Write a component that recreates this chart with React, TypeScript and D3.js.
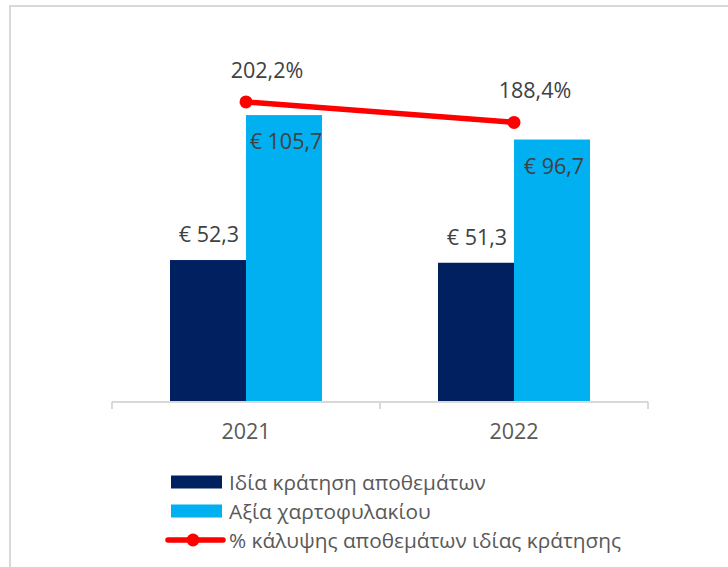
import React from "react";
import * as d3 from "d3";

// data
const years = ["2021", "2022"];
const seriesNames = ["Ιδία κράτηση αποθεμάτων", "Αξία χαρτοφυλακίου"];
const ownHoldings = [52.3, 51.3];
const portfolioValue = [105.7, 96.7];
const coverage = [202.2, 188.4];
const lineName = "% κάλυψης αποθεμάτων ιδίας κράτησης";

const colors = ["#002060", "#00B0F0"];
const red = "#FF0000";
const font = "'Open Sans', sans-serif";

const W = 728;
const H = 567;

const fmt = (v: number) => v.toFixed(1).replace(".", ",");

export default function App() {
  const x = d3.scaleBand().domain(years).range([112, 648]);
  const inner = d3
    .scaleBand()
    .domain(seriesNames)
    .range([0, x.bandwidth()])
    .paddingOuter(0.763)
    .paddingInner(0);
  const y = d3.scaleLinear().domain([0, 140]).range([402, 22]);
  const y2 = d3.scaleLinear().domain([0, 250]).range([402, 31]);

  const values = [ownHoldings, portfolioValue];
  const cx = (yr: string) => (x(yr) ?? 0) + x.bandwidth() / 2;
  const line = d3
    .line<number>()
    .x((_, i) => cx(years[i]))
    .y((d) => y2(d));

  const axisTicks = [...years.map((yr) => x(yr) ?? 0), x.range()[1]];

  return (
    <>
      <style>{"body{margin:0}"}</style>
      <svg width={W} height={H} style={{ display: "block", background: "#fff" }}>
        {/* chart frame */}
        <path d={`M10,${H + 5} V6 H${W + 5}`} fill="none" stroke="#d9d9d9" strokeWidth={2} />

        {/* bars */}
        {seriesNames.map((s, si) =>
          years.map((yr, i) => (
            <rect
              key={s + yr}
              x={(x(yr) ?? 0) + (inner(s) ?? 0)}
              y={y(values[si][i])}
              width={inner.bandwidth()}
              height={y(0) - y(values[si][i])}
              fill={colors[si]}
            />
          ))
        )}

        {/* x axis */}
        <line x1={x.range()[0]} x2={x.range()[1]} y1={y(0)} y2={y(0)} stroke="#d9d9d9" strokeWidth={2} />
        {axisTicks.map((t, i) => (
          <line key={i} x1={t} x2={t} y1={y(0)} y2={y(0) + 7} stroke="#d9d9d9" strokeWidth={2} />
        ))}
        {years.map((yr) => (
          <text key={yr} x={cx(yr)} y={439} textAnchor="middle" fontFamily={font} fontSize={21.5} fill="#595959">
            {yr}
          </text>
        ))}

        {/* bar labels */}
        {years.map((yr, i) => (
          <text
            key={"l0" + yr}
            x={(x(yr) ?? 0) + (inner(seriesNames[0]) ?? 0) + inner.bandwidth() / 2 + 1}
            y={y(ownHoldings[i]) - 18}
            textAnchor="middle"
            fontFamily={font}
            fontSize={21.5}
            fill="#404040"
          >
            {"€ " + fmt(ownHoldings[i])}
          </text>
        ))}
        {years.map((yr, i) => (
          <text
            key={"l1" + yr}
            x={(x(yr) ?? 0) + (inner(seriesNames[1]) ?? 0) + inner.bandwidth() / 2 + 2}
            y={y(portfolioValue[i]) + 34}
            textAnchor="middle"
            fontFamily={font}
            fontSize={21.5}
            fill="#404040"
          >
            {"€ " + fmt(portfolioValue[i])}
          </text>
        ))}

        {/* coverage line */}
        <path d={line(coverage) ?? ""} fill="none" stroke={red} strokeWidth={5.5} strokeLinecap="round" />
        {coverage.map((v, i) => (
          <circle key={i} cx={cx(years[i])} cy={y2(v)} r={6.5} fill={red} />
        ))}
        {coverage.map((v, i) => (
          <text
            key={"c" + i}
            x={cx(years[i]) + 21}
            y={y2(v) - 24}
            textAnchor="middle"
            fontFamily={font}
            fontSize={21.5}
            fill="#404040"
          >
            {fmt(v) + "%"}
          </text>
        ))}

        {/* legend */}
        {seriesNames.map((s, i) => (
          <g key={s} transform={`translate(171,${482 + i * 29})`}>
            <rect x={0} y={-6.5} width={51} height={13} fill={colors[i]} />
            <text x={58} y={7.5} fontFamily={font} fontSize={20.8} fill="#595959">
              {s}
            </text>
          </g>
        ))}
        <g transform={`translate(171,${482 + 2 * 29})`}>
          <line x1={-3} x2={52} y1={0} y2={0} stroke={red} strokeWidth={5.5} strokeLinecap="round" />
          <circle cx={22} cy={0} r={6.5} fill={red} />
          <text x={58} y={7.5} fontFamily={font} fontSize={20.8} fill="#595959">
            {lineName}
          </text>
        </g>
      </svg>
    </>
  );
}
